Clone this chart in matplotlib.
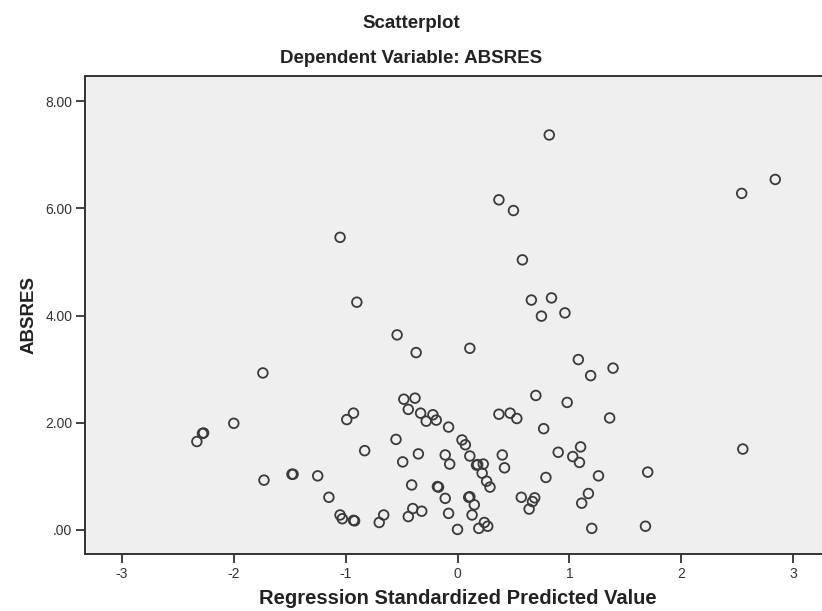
import numpy as np
import matplotlib.pyplot as plt

plt.rcParams['font.family'] = ['Liberation Sans', 'DejaVu Sans']

# Regression standardized predicted value (x) and ABSRES (y)
pred = [0.82, 0.37, 0.50, 2.84, 2.54, -1.05, 0.58, -0.90, 0.66, 0.84, 0.75, 0.96,
        -0.54, -0.37, 0.11, 1.08, 1.19, 1.39, -1.74, 0.70, 0.98,
        -0.48, -0.38, -0.44, -0.33, -0.22, -0.28, -0.19, -0.08, -0.93, -0.99,
        0.37, 0.47, 0.53, 1.36, 0.77,
        -2.33, -2.28, -2.27, -2.00,
        -0.55, -0.83, 0.04, 0.07, -0.49, -0.35, -0.11, -0.07, 0.11, 0.17, 0.18, 0.23,
        0.40, 0.42, 0.90, 1.03, 1.10, 1.09, 2.55,
        0.22, 0.26, 0.29, 0.79, -1.73, -1.48, -1.47, -1.25, 1.26, 1.70,
        -1.15, -0.41, -0.17, -0.18, -0.11, 0.10, 0.11, 0.15, 0.57, 0.64, 0.67, 0.69,
        1.17, 1.11, -0.08, 0.13, -0.32, -0.40, -0.44, -0.66, -0.70,
        -1.05, -1.03, -0.92, -0.93, 0.00, 0.19, 0.24, 0.27, 1.20, 1.68]
absres = [7.37, 6.16, 5.96, 6.54, 6.28, 5.46, 5.04, 4.25, 4.29, 4.33, 3.99, 4.05,
          3.64, 3.31, 3.39, 3.18, 2.88, 3.02, 2.93, 2.51, 2.38,
          2.44, 2.46, 2.25, 2.18, 2.15, 2.03, 2.05, 1.92, 2.18, 2.06,
          2.16, 2.18, 2.08, 2.09, 1.89,
          1.65, 1.80, 1.81, 1.99,
          1.69, 1.48, 1.68, 1.59, 1.27, 1.42, 1.40, 1.23, 1.38, 1.21, 1.22, 1.23,
          1.40, 1.16, 1.45, 1.37, 1.55, 1.26, 1.51,
          1.06, 0.91, 0.80, 0.98, 0.93, 1.04, 1.04, 1.01, 1.01, 1.08,
          0.61, 0.84, 0.80, 0.81, 0.59, 0.61, 0.62, 0.47, 0.61, 0.39, 0.53, 0.60,
          0.68, 0.50, 0.31, 0.28, 0.35, 0.40, 0.25, 0.28, 0.14,
          0.28, 0.21, 0.17, 0.18, 0.01, 0.03, 0.14, 0.07, 0.03, 0.07]

xticks = [-3, -2, -1, 0, 1, 2, 3]
yticks = [0, 2, 4, 6, 8]
ytick_labels = ['.00', '2.00', '4.00', '6.00', '8.00']

fig = plt.figure(figsize=(8.22, 6.11), dpi=100)
ax = fig.add_axes([0.1034, 0.0933, 0.8966, 0.7823])
ax.set_facecolor('#efefef')

ax.scatter(pred, absres, s=48, facecolors='none', edgecolors='#3a3a3a', linewidths=1.3)

ax.set_xlim(-3.33, 3.258)
ax.set_ylim(-0.448, 8.47)
ax.set_xticks(xticks)
ax.set_xticklabels([str(t) for t in xticks])
ax.set_yticks(yticks)
ax.set_yticklabels(ytick_labels)
ax.tick_params(direction='out', length=6.5, width=1.3, color='#333333',
               labelsize=10, labelcolor='#333333')
ax.tick_params(axis='y', pad=2.5)
ax.tick_params(axis='x', pad=3)

for s in ['left', 'bottom', 'top']:
    ax.spines[s].set_color('#333333')
    ax.spines[s].set_linewidth(1.4)
ax.spines['right'].set_visible(False)

ax.set_xlabel('Regression Standardized Predicted Value', fontsize=14.5, fontweight='bold',
              color='#222222', va='baseline')
ax.xaxis.set_label_coords(457.5 / 822, 7 / 611, transform=fig.transFigure)
ax.set_ylabel('ABSRES', fontsize=13.5, fontweight='bold', color='#222222', labelpad=6)

fig.text(0.5, 0.962, 'Scatterplot', ha='center', va='center', fontsize=13.5,
         fontweight='bold', color='#222222')
fig.text(0.5, 0.905, 'Dependent Variable: ABSRES', ha='center', va='center', fontsize=13.5,
         fontweight='bold', color='#222222')

plt.savefig('out.png', dpi=100)
